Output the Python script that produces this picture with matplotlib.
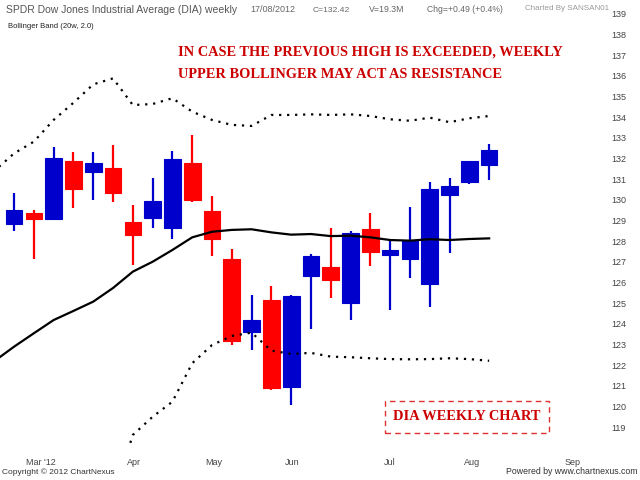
import matplotlib

matplotlib.use("Agg")

import matplotlib.pyplot as plt
from matplotlib.patches import Rectangle

# weekly candles, DIA, week index 0 = 27 Feb 2012
opens = [128.84, 129.38, 129.08, 131.90, 131.34, 131.56, 128.92, 129.14, 128.66, 131.80,
         129.48, 127.14, 123.60, 125.16, 120.96, 126.32, 126.77, 125.00, 128.58, 127.34,
         127.14, 125.93, 130.24, 130.85, 131.69]
highs = [130.35, 129.51, 132.58, 132.33, 132.30, 132.66, 129.75, 131.08, 132.38, 133.14,
         130.20, 127.63, 125.40, 125.85, 125.40, 127.38, 128.66, 128.51, 129.38, 128.06,
         129.64, 130.85, 131.05, 131.90, 132.71]
lows = [128.51, 127.13, 129.03, 129.62, 130.00, 129.89, 126.85, 128.63, 128.10, 129.91,
        127.30, 122.98, 122.74, 120.80, 120.08, 123.76, 125.27, 124.19, 126.82, 124.67,
        126.24, 124.83, 127.42, 130.76, 130.96]
closes = [129.51, 129.06, 132.01, 130.54, 131.77, 130.32, 128.29, 129.95, 131.98, 130.00,
          128.11, 123.19, 124.19, 120.89, 125.37, 127.29, 126.13, 128.41, 127.50, 127.58,
          128.03, 130.51, 130.69, 131.90, 132.42]

# bollinger band (20w, 2.0), index -1 .. 24
bb_x = list(range(-1, 25))
bb_mid = [122.20, 122.90, 123.55, 124.19, 124.63, 125.08, 125.74, 126.53, 127.01, 127.58,
          128.19, 128.46, 128.55, 128.58, 128.43, 128.32, 128.35, 128.25, 128.27, 128.19,
          128.06, 128.03, 128.10, 128.06, 128.11, 128.14]
bb_up = [131.40, 132.25, 132.82, 133.87, 134.70, 135.59, 135.88, 134.59, 134.64, 134.92,
         134.27, 133.87, 133.63, 133.58, 134.11, 134.11, 134.14, 134.11, 134.14, 134.06,
         133.90, 133.83, 133.98, 133.76, 133.95, 134.06]
bb_low = [113.0, 113.6, 114.3, 114.5, 114.6, 114.6, 115.6, 118.63, 119.51, 120.24,
          122.10, 122.98, 123.42, 123.58, 122.71, 122.55, 122.60, 122.42, 122.39, 122.34,
          122.30, 122.29, 122.30, 122.34, 122.30, 122.22]

month_pos = [1.36, 6.06, 10.1, 14.05, 19.0, 23.14, 28.2]
month_labels = ["Mar '12", "Apr", "May", "Jun", "Jul", "Aug", "Sep"]
price_ticks = list(range(119, 140))

plt.rcParams["font.family"] = ["Liberation Sans", "DejaVu Sans"]

fig = plt.figure(figsize=(6.4, 4.8), dpi=100)
ax = fig.add_axes([0, 0.0667, 0.9375, 0.9229])

up_col = "#0000cc"
dn_col = "#ff0000"
for i in range(len(opens)):
    o, h, l, c = opens[i], highs[i], lows[i], closes[i]
    col = up_col if c >= o else dn_col
    ax.vlines(i, l, h, color=col, linewidth=1.6, zorder=2)
    ax.bar(i, abs(c - o), bottom=min(o, c), width=0.84, color=col,
           edgecolor=col, linewidth=0.8, zorder=3)

ax.plot(bb_x, bb_mid, color="black", linewidth=1.6, zorder=4)
ax.plot(bb_x, bb_up, color="black", linewidth=1.6, linestyle=(0, (1, 2.6)), zorder=4)
ax.plot(bb_x, bb_low, color="black", linewidth=1.6, linestyle=(0, (1, 2.6)), zorder=4)

ax.set_xlim(-0.71, 29.6)
ax.set_ylim(118.0, 139.43)
ax.set_xticks(month_pos)
ax.set_xticklabels(month_labels)
ax.set_yticks(price_ticks)
ax.yaxis.tick_right()
ax.tick_params(axis="y", length=0, pad=8, labelsize=6.5, labelcolor="#444444")
ax.tick_params(axis="x", length=0, pad=7, labelsize=6.5, labelcolor="#444444")
for s in ax.spines.values():
    s.set_visible(False)

# header
hy = 1 - 10 / 480
fig.text(6 / 640, hy, "SPDR Dow Jones Industrial Average (DIA) weekly", fontsize=7.45,
         color="#555555", va="center")
fig.text(250 / 640, hy, "17/08/2012", fontsize=6.5, color="#666666", va="center")
fig.text(313 / 640, hy, "C=132.42", fontsize=6.1, color="#666666", va="center")
fig.text(369 / 640, hy, "V=19.3M", fontsize=6.3, color="#666666", va="center")
fig.text(427 / 640, hy, "Chg=+0.49 (+0.4%)", fontsize=6.2, color="#666666", va="center")
fig.text(525 / 640, hy + 1 / 480, "Charted By SANSAN01", fontsize=5.8, color="#999999",
         va="center")
fig.text(8 / 640, 1 - 26 / 480, "Bollinger Band (20w, 2.0)", fontsize=5.5,
         color="#222222", va="center")

# annotation
red = "#cc0000"
fig.text(178 / 640, 1 - 52 / 480, "IN CASE THE PREVIOUS HIGH IS EXCEEDED, WEEKLY",
         family="Liberation Serif", fontweight="bold", fontsize=10.4, color=red, va="center")
fig.text(178 / 640, 1 - 74 / 480, "UPPER BOLLINGER MAY ACT AS RESISTANCE",
         family="Liberation Serif", fontweight="bold", fontsize=10.4, color=red, va="center")

fig.add_artist(Rectangle((385 / 640, 1 - 433 / 480), 164 / 640, 32 / 480,
                         transform=fig.transFigure, fill=False, edgecolor="#e03030",
                         linestyle=(0, (4, 3)), linewidth=1))
fig.text(467 / 640, 1 - 416 / 480, "DIA WEEKLY CHART", family="Liberation Serif",
         fontweight="bold", fontsize=10.4, color=red, ha="center", va="center")

# footer
fig.text(2 / 640, 1 - 472 / 480, "Copyright \u00a9 2012 ChartNexus", fontsize=6,
         color="#333333", va="center")
fig.text(638 / 640, 1 - 472 / 480, "Powered by www.chartnexus.com", fontsize=6.3,
         color="#333333", va="center", ha="right")

fig.savefig("out.png", dpi=100)
plt.close(fig)
